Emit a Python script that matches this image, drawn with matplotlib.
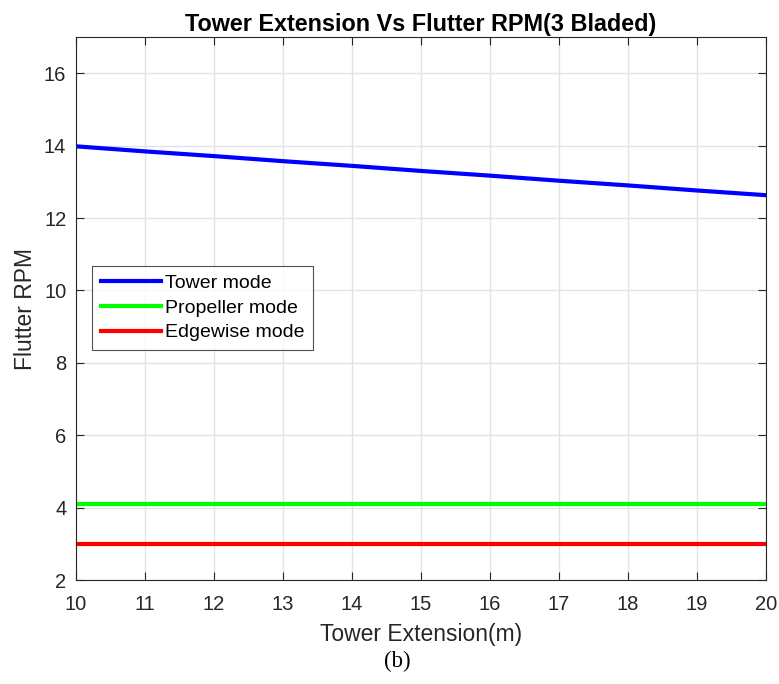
import matplotlib
matplotlib.use("Agg")
import matplotlib.pyplot as plt

# Turmverlängerung in m
extension = [10, 11, 12, 13, 14, 15, 16, 17, 18, 19, 20]
tower_rpm = [13.98, 13.84, 13.71, 13.57, 13.44, 13.30, 13.17, 13.03, 12.90, 12.76, 12.63]
propeller_rpm = [4.1] * len(extension)
edgewise_rpm = [3.0] * len(extension)

plt.rcParams['font.family'] = ['Liberation Sans', 'DejaVu Sans']

fig = plt.figure(figsize=(7.79, 6.84), dpi=100)
ax = fig.add_axes([76 / 779, 1 - 580 / 684, 690 / 779, 543 / 684])

ax.plot(extension, tower_rpm, color=(0, 0, 1), lw=3, label="Tower mode")
ax.plot(extension, propeller_rpm, color=(0, 1, 0), lw=3, label="Propeller mode")
ax.plot(extension, edgewise_rpm, color=(1, 0, 0), lw=3, label="Edgewise mode")

ax.set_xlim(10, 20)
ax.set_ylim(2, 17)
ax.set_xticks(range(10, 21))
ax.set_yticks(range(2, 17, 2))
ax.grid(True, color="#e3e3e3", lw=1)
ax.set_axisbelow(True)
ax.tick_params(direction="in", top=True, right=True, labelsize=14.5,
               colors="#262626", length=6, width=0.8)
ax.tick_params(axis="x", pad=11)
ax.tick_params(axis="y", pad=7)
for s in ax.spines.values():
    s.set_color("#262626")
    s.set_linewidth(0.8)

ax.set_title("Tower Extension Vs Flutter RPM(3 Bladed)", fontsize=16.8,
             fontweight="bold", pad=4)
ax.set_xlabel("Tower Extension(m)", fontsize=16.5, color="#262626", labelpad=6)
ax.set_ylabel("Flutter RPM", fontsize=16.5, color="#262626", labelpad=5)

leg = ax.legend(loc="upper left", bbox_to_anchor=(16 / 690, 1 - 229 / 543),
                fontsize=14, frameon=True, fancybox=False, handlelength=3.1,
                borderaxespad=0, labelspacing=0.4, handletextpad=0.2,
                borderpad=0.45, handleheight=0.6)
leg.get_frame().set_edgecolor("#262626")
leg.get_frame().set_linewidth(0.8)

fig.text(397 / 779, 1 - 661 / 684, "(b)", family="Liberation Serif",
         fontsize=16.5, ha="center", va="center")

fig.savefig("out.png", dpi=100)
